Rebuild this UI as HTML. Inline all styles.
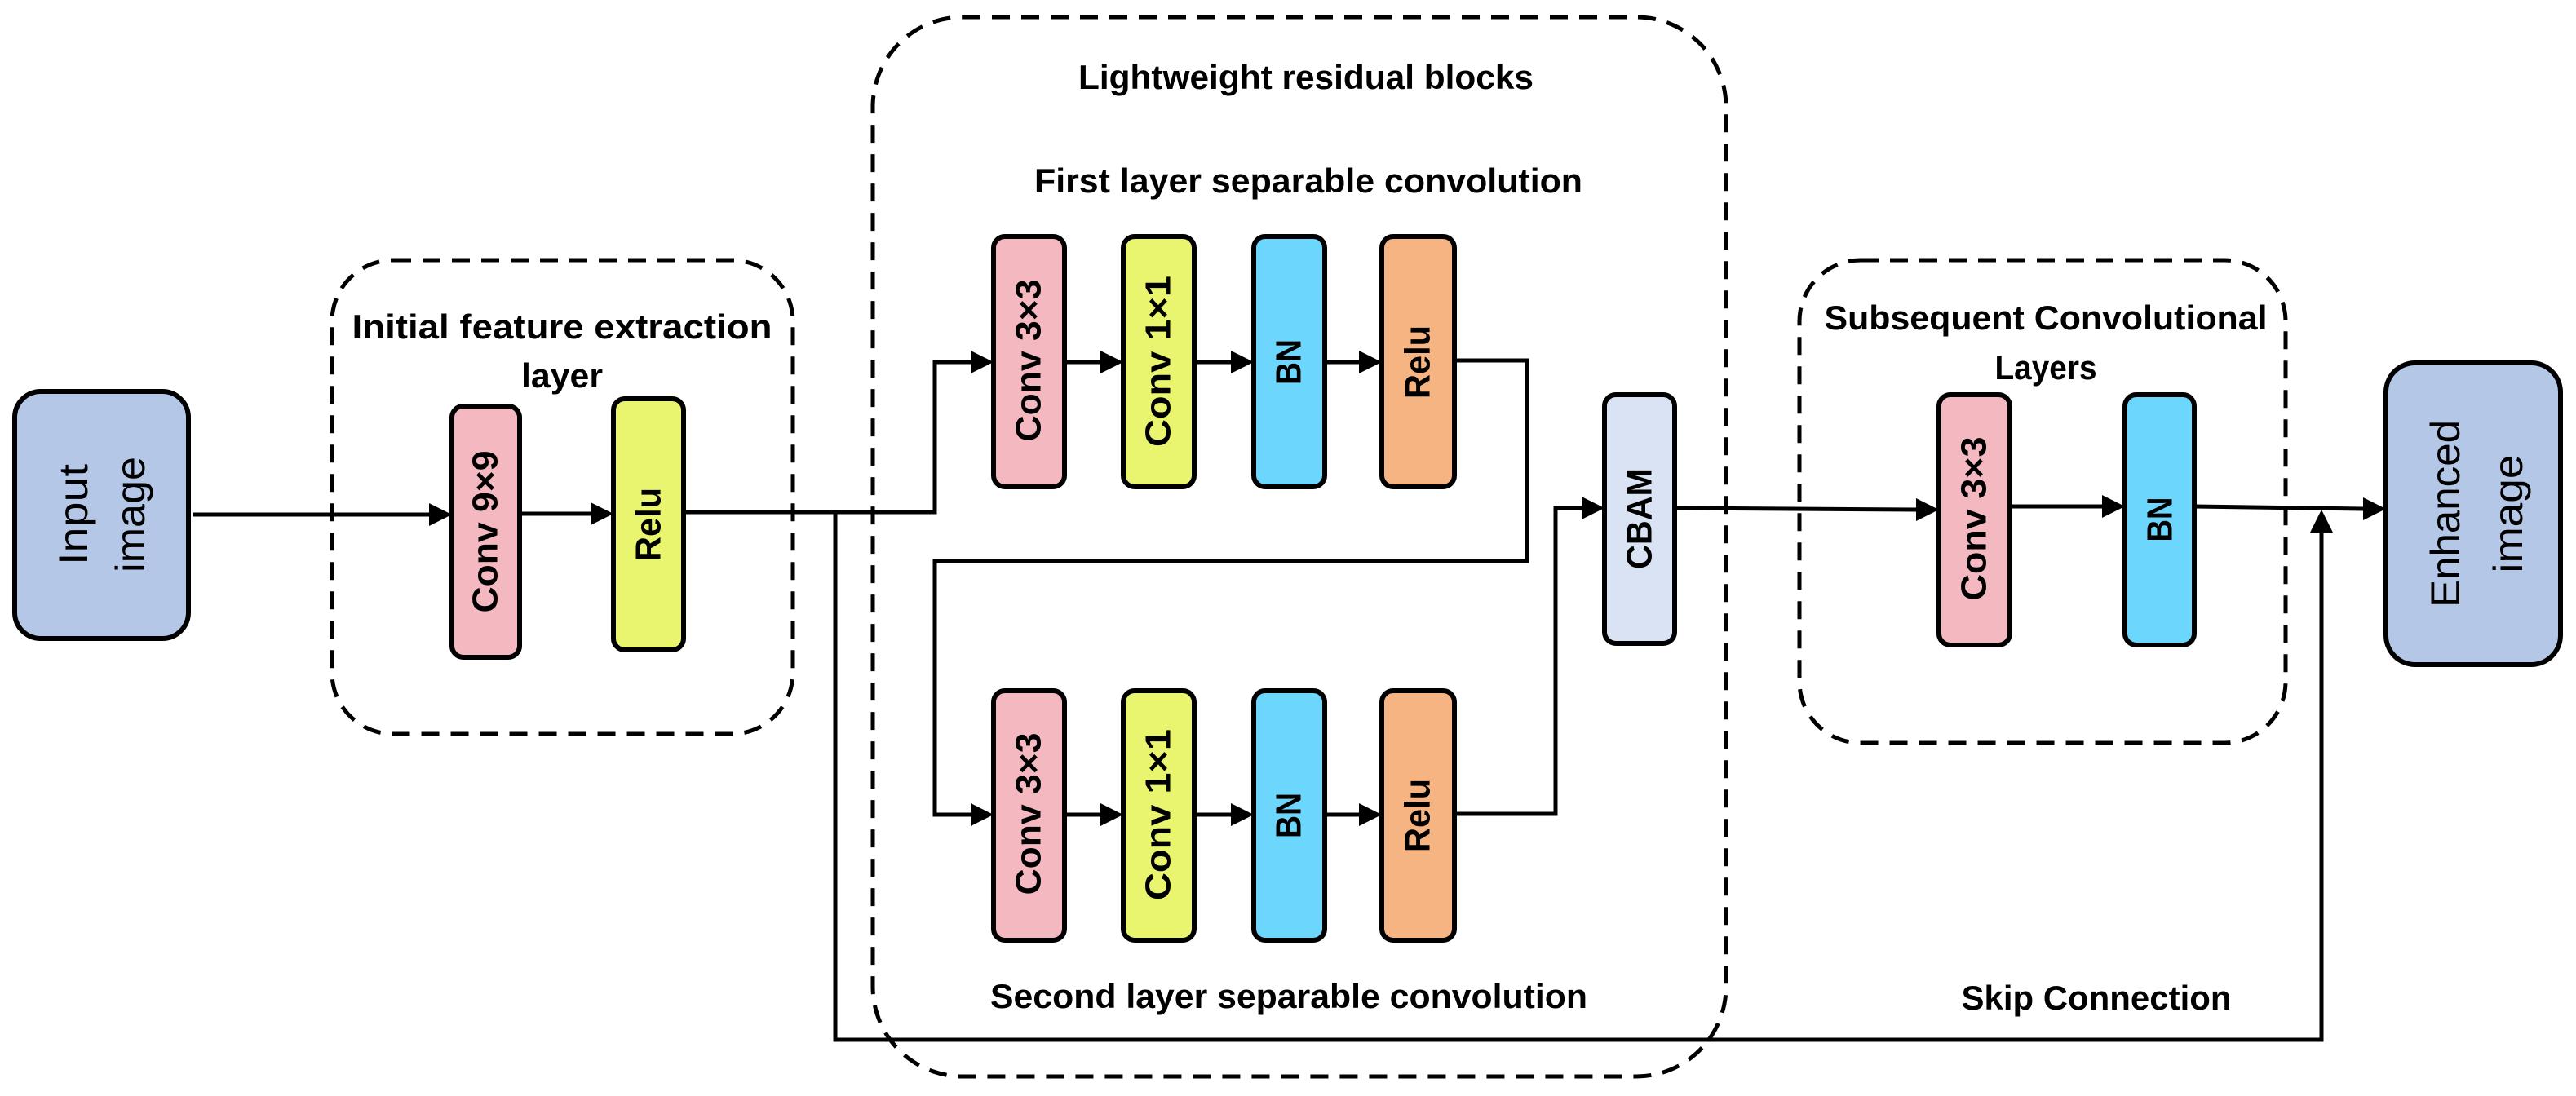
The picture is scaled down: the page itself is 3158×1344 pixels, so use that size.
<!DOCTYPE html>
<html><head><meta charset="utf-8"><style>html,body{margin:0;padding:0;background:#fff}svg{display:block}</style></head>
<body>
<svg width="3158" height="1344" viewBox="0 0 3158 1344" xmlns="http://www.w3.org/2000/svg">
<style>
.b{stroke:#000;stroke-width:6}
.d{fill:none;stroke:#000;stroke-width:5;stroke-dasharray:22 14}
.l{fill:none;stroke:#000;stroke-width:5}
.t{font-family:"Liberation Sans",sans-serif;font-weight:bold;font-size:42px;fill:#000}
.r{font-family:"Liberation Sans",sans-serif;font-weight:bold;font-size:44px;fill:#000}
.n{font-family:"Liberation Sans",sans-serif;font-size:50px;fill:#000}
</style>
<rect class="d" x="407" y="319" width="565" height="581" rx="75"/>
<rect class="d" x="1070" y="21" width="1046" height="1299" rx="110"/>
<rect class="d" x="2206" y="319" width="596" height="592" rx="75"/>

<g class="l">
<line x1="236" y1="631" x2="526" y2="631"/>
<line x1="637" y1="630" x2="724" y2="630"/>
<polyline points="838,628 1146,628 1146,444 1190,444"/>
<line x1="1305" y1="444" x2="1349" y2="444"/>
<line x1="1464" y1="444" x2="1509" y2="444"/>
<line x1="1624" y1="444" x2="1666" y2="444"/>
<polyline points="1783,442 1872,442 1872,688 1146,688 1146,999 1190,999"/>
<line x1="1305" y1="999" x2="1349" y2="999"/>
<line x1="1464" y1="999" x2="1509" y2="999"/>
<line x1="1624" y1="999" x2="1666" y2="999"/>
<polyline points="1783,998 1907,998 1907,623 1939,623"/>
<line x1="2053" y1="623" x2="2349" y2="625"/>
<line x1="2464" y1="621" x2="2577" y2="621"/>
<line x1="2690" y1="621" x2="2897" y2="624"/>
<polyline points="1024,628 1024,1275 2846,1275 2846,653"/>
</g>
<g fill="#000">
<path d="M526,617 L554,631 L526,645 z"/>
<path d="M724,616 L752,630 L724,644 z"/>
<path d="M1190,430 L1218,444 L1190,458 z"/>
<path d="M1349,430 L1377,444 L1349,458 z"/>
<path d="M1509,430 L1537,444 L1509,458 z"/>
<path d="M1666,430 L1694,444 L1666,458 z"/>
<path d="M1190,985 L1218,999 L1190,1013 z"/>
<path d="M1349,985 L1377,999 L1349,1013 z"/>
<path d="M1509,985 L1537,999 L1509,1013 z"/>
<path d="M1666,985 L1694,999 L1666,1013 z"/>
<path d="M1939,609 L1967,623 L1939,637 z"/>
<path d="M2349,611 L2377,625 L2349,639 z"/>
<path d="M2577,607 L2605,621 L2577,635 z"/>
<path d="M2897,610 L2925,624 L2897,638 z"/>
<path d="M2832,653 L2846,625 L2860,653 z"/>
</g>

<rect class="b" x="18" y="480" width="213" height="303" rx="32" fill="#b4c7e7"/>
<rect class="b" x="554" y="498" width="83" height="308" rx="14" fill="#f4b8c0"/>
<rect class="b" x="752" y="489" width="86" height="308" rx="14" fill="#e9f56f"/>

<rect class="b" x="1218" y="290" width="87" height="307" rx="14" fill="#f4b8c0"/>
<rect class="b" x="1377" y="290" width="87" height="307" rx="14" fill="#e9f56f"/>
<rect class="b" x="1537" y="290" width="87" height="307" rx="14" fill="#6dd6fc"/>
<rect class="b" x="1694" y="290" width="89" height="307" rx="14" fill="#f5b482"/>

<rect class="b" x="1218" y="847" width="87" height="306" rx="14" fill="#f4b8c0"/>
<rect class="b" x="1377" y="847" width="87" height="306" rx="14" fill="#e9f56f"/>
<rect class="b" x="1537" y="847" width="87" height="306" rx="14" fill="#6dd6fc"/>
<rect class="b" x="1694" y="847" width="89" height="306" rx="14" fill="#f5b482"/>

<rect class="b" x="1967" y="484" width="86" height="305" rx="14" fill="#dae3f3"/>

<rect class="b" x="2377" y="484" width="87" height="307" rx="14" fill="#f4b8c0"/>
<rect class="b" x="2605" y="484" width="85" height="307" rx="14" fill="#6dd6fc"/>

<rect class="b" x="2925" y="445" width="214" height="370" rx="36" fill="#b4c7e7"/>

<text class="t" x="689" y="415" text-anchor="middle" textLength="515" lengthAdjust="spacingAndGlyphs">Initial feature extraction</text>
<text class="t" x="689" y="475" text-anchor="middle" textLength="100" lengthAdjust="spacingAndGlyphs">layer</text>
<text class="t" x="1601" y="109" text-anchor="middle" textLength="558" lengthAdjust="spacingAndGlyphs">Lightweight residual blocks</text>
<text class="t" x="1604" y="236" text-anchor="middle" textLength="672" lengthAdjust="spacingAndGlyphs">First layer separable convolution</text>
<text class="t" x="1580" y="1236" text-anchor="middle" textLength="732" lengthAdjust="spacingAndGlyphs">Second layer separable convolution</text>
<text class="t" x="2508" y="404" text-anchor="middle" textLength="543" lengthAdjust="spacingAndGlyphs">Subsequent Convolutional</text>
<text class="t" x="2508" y="465" text-anchor="middle" textLength="125" lengthAdjust="spacingAndGlyphs">Layers</text>
<text class="t" x="2570" y="1238" text-anchor="middle" textLength="331" lengthAdjust="spacingAndGlyphs">Skip Connection</text>

<g class="r" text-anchor="middle" dominant-baseline="central">
<text transform="translate(595,652) rotate(-90)" textLength="199" lengthAdjust="spacingAndGlyphs">Conv 9×9</text>
<text transform="translate(795,643) rotate(-90)" textLength="90" lengthAdjust="spacingAndGlyphs">Relu</text>
<text transform="translate(1261,442) rotate(-90)" textLength="199" lengthAdjust="spacingAndGlyphs">Conv 3×3</text>
<text transform="translate(1420,443) rotate(-90)" textLength="210" lengthAdjust="spacingAndGlyphs">Conv 1×1</text>
<text transform="translate(1580,444) rotate(-90)" textLength="56" lengthAdjust="spacingAndGlyphs">BN</text>
<text transform="translate(1738,444) rotate(-90)" textLength="90" lengthAdjust="spacingAndGlyphs">Relu</text>
<text transform="translate(1261,998) rotate(-90)" textLength="199" lengthAdjust="spacingAndGlyphs">Conv 3×3</text>
<text transform="translate(1420,999) rotate(-90)" textLength="210" lengthAdjust="spacingAndGlyphs">Conv 1×1</text>
<text transform="translate(1580,1000) rotate(-90)" textLength="56" lengthAdjust="spacingAndGlyphs">BN</text>
<text transform="translate(1738,1000) rotate(-90)" textLength="90" lengthAdjust="spacingAndGlyphs">Relu</text>
<text transform="translate(2010,636) rotate(-90)" textLength="124" lengthAdjust="spacingAndGlyphs">CBAM</text>
<text transform="translate(2420,636) rotate(-90)" textLength="201" lengthAdjust="spacingAndGlyphs">Conv 3×3</text>
<text transform="translate(2648,637) rotate(-90)" textLength="55" lengthAdjust="spacingAndGlyphs">BN</text>
</g>
<g class="n" text-anchor="middle" dominant-baseline="central">
<text transform="translate(90,631) rotate(-90)" textLength="124" lengthAdjust="spacingAndGlyphs">Input</text>
<text transform="translate(160,631) rotate(-90)" textLength="142" lengthAdjust="spacingAndGlyphs">image</text>
<text transform="translate(2998,630) rotate(-90)" textLength="230" lengthAdjust="spacingAndGlyphs">Enhanced</text>
<text transform="translate(3075,630) rotate(-90)" textLength="145" lengthAdjust="spacingAndGlyphs">image</text>
</g>
</svg>
</body></html>
